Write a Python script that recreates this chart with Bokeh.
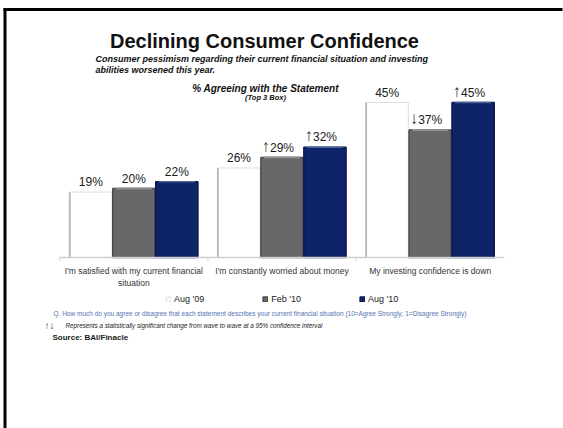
from bokeh.plotting import figure
from bokeh.models import ColumnDataSource, Label, Legend, LegendItem, BoxAnnotation, FactorRange, Range1d
from bokeh.transform import dodge
from bokeh.core.properties import value
from bokeh.embed import file_html
from bokeh.resources import INLINE

# ---- data ----
categories = ["I'm satisfied with my current financial situation",
              "I'm constantly worried about money",
              "My investing confidence is down"]
category_labels = ["I'm satisfied with my current financial\nsituation",
                   "I'm constantly worried about money",
                   "My investing confidence is down"]
series_names = ["Aug '09", "Feb '10", "Aug '10"]
aug09 = [19, 26, 45]
feb10 = [20, 29, 37]
aug10 = [22, 32, 45]
feb10_sig = ["", "\u2191", "\u2193"]
aug10_sig = ["", "\u2191", "\u2191"]

title = "Declining Consumer Confidence"
subtitle1 = "Consumer pessimism regarding their current financial situation and investing"
subtitle2 = "abilities worsened this year."
chart_title = "% Agreeing with the Statement"
chart_sub = "(Top 3 Box)"
question = ("Q.  How much do you agree or disagree that each statement describes your current "
            "financial situation (10=Agree Strongly; 1=Disagree Strongly)")
sig_note = "Represents a statistically significant change from wave to wave at a 95% confidence interval"
source_note = "Source: BAI/Finacle"

FONT = "Liberation Sans"
H = 428

src = ColumnDataSource(dict(
    cat=categories, catlab=category_labels,
    aug09=aug09, feb10=feb10, aug10=aug10,
    lab09=[f"{v}%" for v in aug09],
    lab10a=[f"{v}%" for v in feb10],
    lab10b=[f"{v}%" for v in aug10],
    sig10a=feb10_sig, sig10b=aug10_sig,
))

# whole canvas is the frame; zero line at canvas y=257, 3.444 px per percent
p = figure(width=563, height=H, output_backend="svg", toolbar_location=None,
           x_range=FactorRange(*categories, range_padding=0.4, range_padding_units="absolute"),
           y_range=Range1d(-171 / 3.444, 257 / 3.444),
           min_border=0, x_axis_location=None, y_axis_location=None)
p.outline_line_color = None
p.grid.visible = False
p.background_fill_color = "white"
p.border_fill_color = "white"

OFF = 0.29
W = 0.285

r1 = p.vbar(x=dodge("cat", -OFF, range=p.x_range), top="aug09", width=W, source=src,
            fill_color="white", line_color="#dddddd", line_width=1)
p.segment(x0=dodge("cat", -OFF - W / 2, range=p.x_range), x1=dodge("cat", -OFF - W / 2, range=p.x_range),
          y0=0, y1="aug09", source=src, line_color="#bdbdbd", line_width=2)
r2 = p.vbar(x=dodge("cat", 0, range=p.x_range), top="feb10", width=W, source=src,
            fill_color="#686868", line_color="#4a4a4a", line_width=1.5)
p.segment(x0=dodge("cat", -W / 2 + 0.02, range=p.x_range), x1=dodge("cat", W / 2 - 0.02, range=p.x_range),
          y0="feb10", y1="feb10", source=src, line_color="#8f8f8f", line_width=2)
r3 = p.vbar(x=dodge("cat", OFF, range=p.x_range), top="aug10", width=W, source=src,
            fill_color="#0f2468", line_color="#0a1a50", line_width=1.5)
p.segment(x0=dodge("cat", OFF - W / 2 + 0.02, range=p.x_range), x1=dodge("cat", OFF + W / 2 - 0.02, range=p.x_range),
          y0="aug10", y1="aug10", source=src, line_color="#4d619a", line_width=1.5)

for xo, col, ycol, sig in [(-OFF, "lab09", "aug09", None), (0, "lab10a", "feb10", "sig10a"),
                           (OFF, "lab10b", "aug10", "sig10b")]:
    p.text(x=dodge("cat", xo, range=p.x_range), y=ycol, text=col, source=src,
           text_align="center", text_baseline="bottom", y_offset=-3,
           text_font=value(FONT), text_font_size="12px", text_color="#1a1a1a")
    if sig:
        p.text(x=dodge("cat", xo, range=p.x_range), y=ycol, text=sig, source=src,
               text_align="right", text_baseline="bottom", x_offset=-12, y_offset=-2,
               text_font=value(FONT), text_font_size="17px", text_color="#333333")

# category axis (baseline, separator ticks, labels)
axsrc = ColumnDataSource(dict(first=[categories[0]], last=[categories[-1]]))
p.segment(x0=dodge("first", -0.5, range=p.x_range), x1=dodge("last", 0.5, range=p.x_range),
          y0=0, y1=0, source=axsrc, line_color="#cfcfcf", line_width=1.5)
p.segment(x0=dodge("cat", -0.5, range=p.x_range), x1=dodge("cat", -0.5, range=p.x_range),
          y0=0, y1=-1, source=src, line_color="#cfcfcf", line_width=1)
p.text(x="cat", y=0, text="catlab", source=src, y_offset=8, text_align="center", text_baseline="top",
       text_font=value(FONT), text_font_size="8.5px", text_color="#333333", text_line_height=1.2)

# legend
legend = Legend(items=[LegendItem(label=series_names[0], renderers=[r1]),
                       LegendItem(label=series_names[1], renderers=[r2]),
                       LegendItem(label=series_names[2], renderers=[r3])],
                orientation="horizontal", location=(165, H - 304),
                glyph_width=6, glyph_height=6, label_standoff=3, spacing=58,
                padding=0, margin=0, border_line_color=None, background_fill_alpha=0,
                label_text_font=FONT, label_text_font_size="9px", label_text_color="#222222",
                label_height=10)
p.add_layout(legend, "center")

def lab(x, y, text, size, style="normal", color="#000000", align="left"):
    p.add_layout(Label(x=x, y=H - y, x_units="screen", y_units="screen", text=text,
                       text_font=FONT, text_font_size=size, text_font_style=style,
                       text_color=color, text_align=align, text_baseline="middle"))

lab(264, 40, title, "20px", "bold", "#111111", "center")
lab(95, 58, subtitle1, "9px", "bold italic", "#111111")
lab(95, 69, subtitle2, "9px", "bold italic", "#111111")
lab(265, 88, chart_title, "10px", "bold italic", "#111111", "center")
lab(265, 97, chart_sub, "7.5px", "bold italic", "#111111", "center")
lab(53, 313, question, "6.5px", "normal", "#5474b4")
lab(44, 325, "\u2191\u2193", "10px", "normal", "#333333")
lab(65, 325, sig_note, "6.3px", "italic", "#222222")
lab(52, 337, source_note, "8px", "bold", "#222222")

# slide frame (top and left edges), blank right margin
for l, r, t, b, c in [(545, 563, 11, 428, "white"), (3, 562, 7.5, 10.5, "black"), (3, 6, 7.5, 428, "black")]:
    p.add_layout(BoxAnnotation(left=l, right=r, top=H - t, bottom=H - b,
                               left_units="screen", right_units="screen",
                               top_units="screen", bottom_units="screen",
                               fill_color=c, fill_alpha=1, line_color=None))

html = file_html(p, INLINE)
html = html.replace("</head>", "<style>html,body{margin:0;padding:0;overflow:hidden;}</style></head>", 1)
open("out.html", "w").write(html)
